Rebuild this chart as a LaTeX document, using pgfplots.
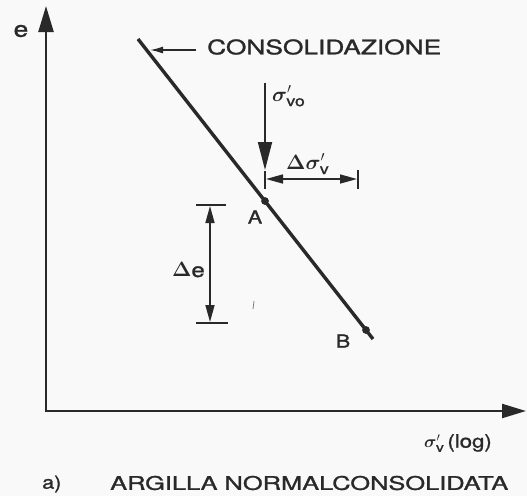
\documentclass[border=0pt]{standalone}
\usepackage{pgfplots}
\pgfplotsset{compat=1.18}
\usepackage{amsmath}
\usepackage{bm}
\usepackage{fontspec}
\setmainfont{TeX Gyre Heros}[FakeStretch=1.2, FakeBold=1.3]
\usetikzlibrary{arrows.meta}
\definecolor{ink}{gray}{0.16}
\definecolor{paper}{gray}{0.975}

\begin{document}
\begin{tikzpicture}
\path[use as bounding box, fill=paper] (0,0) rectangle (527pt,496pt);
\begin{axis}[at={(0,0)}, anchor=south west, scale only axis,
  width=527pt, height=496pt,
  xmin=0, xmax=527, ymin=0, ymax=496, y dir=reverse,
  hide axis, clip=false]

% axes of the e - log(sigma'_v) plane
\draw[ink, line width=2.3pt, -{Triangle[length=26pt,width=15pt]}]
  (axis cs:46,412) -- (axis cs:46,6);
\draw[ink, line width=2.3pt, -{Triangle[length=24pt,width=14pt]}]
  (axis cs:45,411) -- (axis cs:526,411);

% normal consolidation line
\addplot[ink, line width=3.4pt] coordinates {(138,39) (373,339)};
% points A and B on the line
\addplot[only marks, mark=*, mark size=3.6pt, ink] coordinates {(265,201) (366,330)};

% label arrow for the consolidation line
\draw[ink, line width=1.5pt, -{Latex[length=13pt,width=7pt]}]
  (axis cs:196,50) -- (axis cs:150,50);
\node[anchor=west, inner sep=0pt, text=ink] at (axis cs:207,47)
  {\resizebox{234pt}{15pt}{CONSOLIDAZIONE}};

% initial effective vertical stress
\draw[ink, line width=1.8pt, -{Triangle[length=28pt,width=14pt]}]
  (axis cs:265,83) -- (axis cs:265,170);
\node[anchor=base west, inner sep=0pt, text=ink, font=\fontsize{21}{24}\selectfont]
  at (axis cs:272,101) {$\bm{\sigma}'_{\text{vo}}$};

% stress increment
\draw[ink, line width=1.8pt] (axis cs:265,171) -- (axis cs:265,189);
\draw[ink, line width=1.8pt] (axis cs:358,170) -- (axis cs:358,189);
\draw[ink, line width=1.5pt, {Triangle[length=17pt,width=9pt]}-{Triangle[length=17pt,width=9pt]}]
  (axis cs:266,179) -- (axis cs:357,179);
\node[anchor=base west, inner sep=0pt, text=ink, font=\fontsize{21}{24}\selectfont]
  at (axis cs:286,169) {$\bm{\Delta\sigma}'_{\text{v}}$};

% void ratio change
\draw[ink, line width=1.8pt] (axis cs:196,205) -- (axis cs:226,205);
\draw[ink, line width=1.8pt] (axis cs:196,323) -- (axis cs:228,323);
\draw[ink, line width=1.5pt, {Triangle[length=17pt,width=9pt]}-{Triangle[length=17pt,width=9pt]}]
  (axis cs:210,206) -- (axis cs:210,322);
\node[anchor=east, inner sep=0pt, text=ink, font=\fontsize{20}{24}\selectfont]
  at (axis cs:205,270) {$\bm{\Delta}$e};
\draw[ink!60, line width=0.8pt] (axis cs:254,301) -- (axis cs:253,309);

% point labels
\node[inner sep=0pt, text=ink, font=\fontsize{18}{22}\selectfont] at (axis cs:255,217) {A};
\node[inner sep=0pt, text=ink, font=\fontsize{18}{22}\selectfont] at (axis cs:343,341) {B};

% axis labels
\node[inner sep=0pt, text=ink, font=\fontsize{22}{24}\selectfont] at (axis cs:21,31) {e};
\node[anchor=west, inner sep=0pt, text=ink, font=\fontsize{18.5}{22}\selectfont]
  at (axis cs:424,443) {$\bm{\sigma}'_{\text{v}}$\,(log)};

% caption
\node[anchor=west, inner sep=0pt, text=ink, font=\fontsize{18}{20}\selectfont]
  at (axis cs:42,484) {a)};
\node[anchor=west, inner sep=0pt, text=ink] at (axis cs:110,483)
  {\resizebox{398pt}{14pt}{ARGILLA NORMALCONSOLIDATA}};
\end{axis}
\end{tikzpicture}
\end{document}
